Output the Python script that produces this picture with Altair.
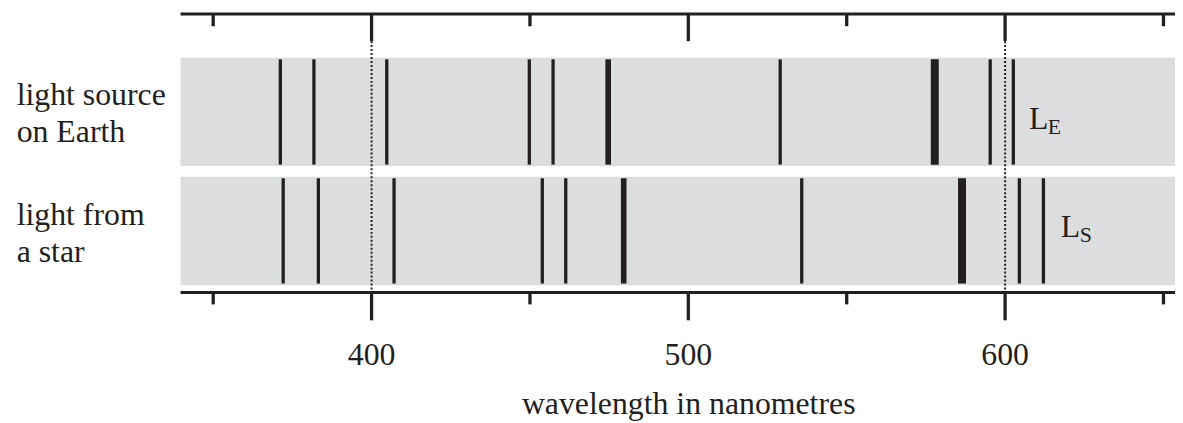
import altair as alt
import pandas as pd

# ---- data ----
earth_nm = [371.2, 381.8, 404.8, 449.8, 457.3, 474.7, 529.0, 577.8, 595.3, 602.6]
earth_strength = [1, 1, 1, 1, 1, 2, 1, 3, 1, 1]
star_nm = [372.1, 383.2, 407.1, 453.9, 461.3, 479.6, 535.8, 586.4, 604.5, 612.1]
star_strength = [1, 1, 1, 1, 1, 2, 1, 3, 1, 1]
minor_ticks = [350, 450, 550, 650]
major_ticks = [400, 500, 600]
tick_labels = ["400", "500", "600"]
reference_nm = [400, 600]
earth_label = ["light source", "on Earth"]
star_label = ["light from", "a star"]
axis_title = "wavelength in nanometres"

X_MIN, X_MAX = 339.7, 653.64
W, H = 1001, 413
INK = "#231f20"
BAND = "#dcdddf"
FONT = "Liberation Serif"

xs = alt.Scale(domain=[X_MIN, X_MAX], range=[0, W], nice=False, zero=False)
size_scale = alt.Scale(domain=[1, 3], range=[3.3, 8])

earth_df = pd.DataFrame({"nm": earth_nm, "s": earth_strength})
star_df = pd.DataFrame({"nm": star_nm, "s": star_strength})
minor_df = pd.DataFrame({"nm": minor_ticks})
major_df = pd.DataFrame({"nm": major_ticks, "label": tick_labels})
ref_df = pd.DataFrame({"nm": reference_nm})
one = pd.DataFrame({"k": [0]})

def band(y0, y1):
    return alt.Chart(one).mark_rect(color=BAND).encode(
        x=alt.value(0), x2=alt.value(W), y=alt.value(y0), y2=alt.value(y1))

def lines(df, y0, y1):
    return alt.Chart(df).mark_rule(color=INK).encode(
        x=alt.X("nm:Q", scale=xs, axis=None),
        y=alt.value(y0), y2=alt.value(y1),
        size=alt.Size("s:Q", scale=size_scale, legend=None))

def axis_line(y):
    return alt.Chart(one).mark_rule(color=INK, strokeWidth=3).encode(
        x=alt.value(0), x2=alt.value(W), y=alt.value(y))

def ticks(df, y0, y1):
    return alt.Chart(df).mark_rule(color=INK, strokeWidth=3.3).encode(
        x=alt.X("nm:Q", scale=xs, axis=None), y=alt.value(y0), y2=alt.value(y1))

def text(t, x, y, size=32, align="left"):
    return alt.Chart(pd.DataFrame({"t": [t]})).mark_text(
        font=FONT, fontSize=size, color=INK, align=align, baseline="alphabetic"
    ).encode(text="t:N", x=alt.value(x), y=alt.value(y))

TOP = 4.7
BOT = 285

layers = [
    band(48.7, 157.7),
    band(168.5, 277.7),
    lines(earth_df, 50.3, 156.3),
    lines(star_df, 170, 276),
    alt.Chart(ref_df).mark_rule(color=INK, strokeWidth=2, strokeDash=[2, 2]).encode(
        x=alt.X("nm:Q", scale=xs, axis=None), y=alt.value(32), y2=alt.value(BOT)),
    axis_line(TOP),
    axis_line(BOT),
    ticks(minor_df, TOP, 17),
    ticks(major_df, TOP, 32),
    ticks(minor_df, BOT, 297),
    ticks(major_df, BOT, 313),
    alt.Chart(major_df).mark_text(
        font=FONT, fontSize=32, color=INK, align="center", baseline="alphabetic"
    ).encode(x=alt.X("nm:Q", scale=xs, axis=None), y=alt.value(358), text="label:N"),
    text(axis_title, 511.5, 407.5, align="center"),
    text(earth_label[0], -165, 96),
    text(earth_label[1], -165, 134),
    text(star_label[0], -165, 217.5),
    text(star_label[1], -165, 254),
    text("L", 854, 120),
    text("E", 873, 125, size=22),
    text("L", 886, 229),
    text("S", 905, 234.5, size=22),
]

chart = alt.layer(*layers).properties(
    width=W, height=H,
    autosize=alt.AutoSizeParams(type="none"),
    padding={"left": 173.7, "top": 0, "right": 0, "bottom": 0},
).configure_view(stroke=None)

chart.save("out.html", embed_options={"renderer": "svg", "actions": False})
